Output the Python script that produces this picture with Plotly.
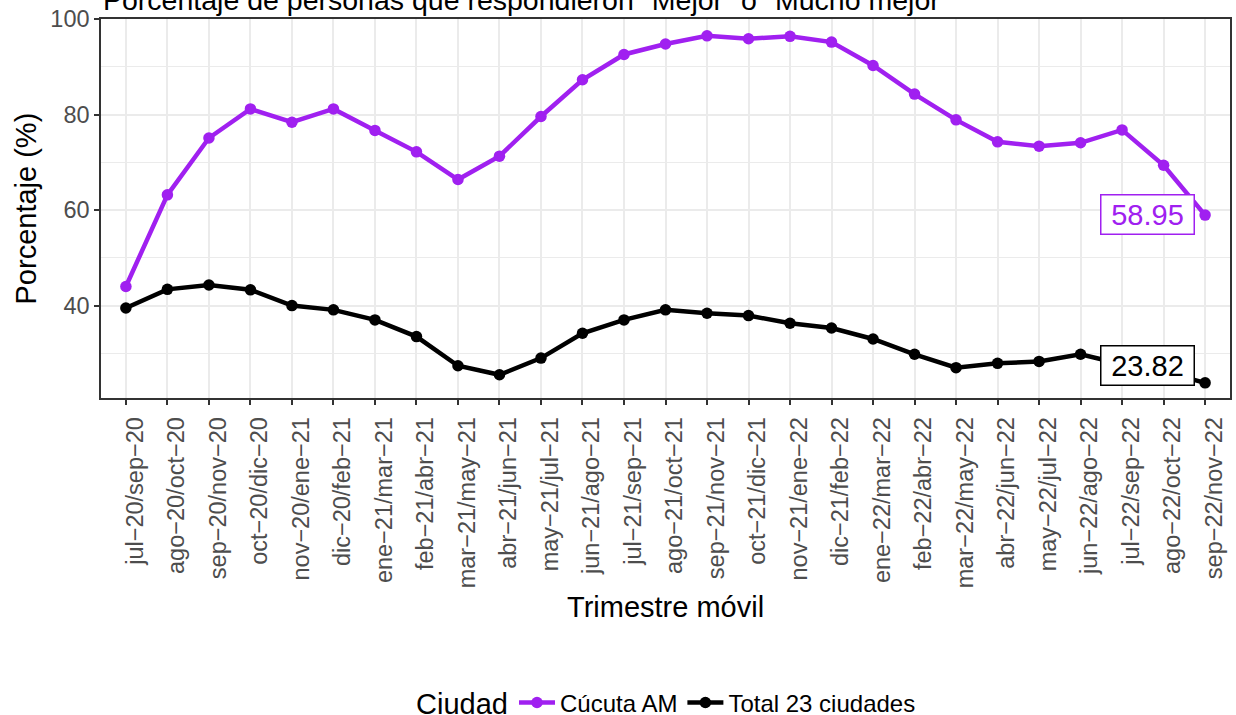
import plotly.graph_objects as go

categorias = [
    "jul−20/sep−20", "ago−20/oct−20", "sep−20/nov−20", "oct−20/dic−20",
    "nov−20/ene−21", "dic−20/feb−21", "ene−21/mar−21", "feb−21/abr−21",
    "mar−21/may−21", "abr−21/jun−21", "may−21/jul−21", "jun−21/ago−21",
    "jul−21/sep−21", "ago−21/oct−21", "sep−21/nov−21", "oct−21/dic−21",
    "nov−21/ene−22", "dic−21/feb−22", "ene−22/mar−22", "feb−22/abr−22",
    "mar−22/may−22", "abr−22/jun−22", "may−22/jul−22", "jun−22/ago−22",
    "jul−22/sep−22", "ago−22/oct−22", "sep−22/nov−22",
]

cucuta = [44.0, 63.2, 75.1, 81.2, 78.4, 81.2, 76.7, 72.2, 66.4, 71.3,
          79.6, 87.3, 92.6, 94.8, 96.5, 95.9, 96.4, 95.2, 90.3, 84.3,
          78.9, 74.3, 73.4, 74.1, 76.8, 69.4, 58.95]

total23 = [39.5, 43.4, 44.3, 43.3, 40.0, 39.1, 37.0, 33.5, 27.4, 25.5,
           29.0, 34.2, 37.0, 39.1, 38.4, 37.9, 36.3, 35.3, 33.0, 29.8,
           27.0, 27.9, 28.3, 29.8, 27.7, 26.2, 23.82]

y_ticks = [40, 60, 80, 100]

PURPLE = "#A020F0"
BLACK = "#000000"
FONT = "Liberation Sans, Arial, sans-serif"
BIG = 29
SMALL = 23.5

fig = go.Figure()
fig.add_trace(go.Scatter(x=categorias, y=cucuta, mode="lines+markers", name="Cúcuta AM",
                         line=dict(color=PURPLE, width=4.5), marker=dict(color=PURPLE, size=11.5)))
fig.add_trace(go.Scatter(x=categorias, y=total23, mode="lines+markers", name="Total 23 ciudades",
                         line=dict(color=BLACK, width=4.5), marker=dict(color=BLACK, size=11.5)))

# end labels
fig.add_annotation(x=categorias[-1], y=cucuta[-1], text=f"{cucuta[-1]:.2f}", showarrow=False,
                   xanchor="right", yanchor="middle", xshift=-10, yshift=1,
                   font=dict(family=FONT, size=BIG, color=PURPLE), bgcolor="white",
                   bordercolor=PURPLE, borderwidth=1.5, borderpad=3, width=86)
fig.add_annotation(x=categorias[-1], y=total23[-1], text=f"{total23[-1]:.2f}", showarrow=False,
                   xanchor="right", yanchor="middle", xshift=-10, yshift=17,
                   font=dict(family=FONT, size=BIG, color=BLACK), bgcolor="white",
                   bordercolor=BLACK, borderwidth=1.5, borderpad=3, width=86)

# title (cut off at top)
fig.add_annotation(xref="paper", yref="paper", x=0, y=1, xanchor="left", yanchor="bottom",
                   yshift=1, showarrow=False,
                   text='Porcentaje de personas que respondieron "Mejor" o "Mucho mejor"',
                   font=dict(family=FONT, size=28.5, color="black"))
# axis titles
fig.add_annotation(xref="paper", yref="paper", x=0.5, y=0, yshift=-209, xanchor="center",
                   yanchor="middle", showarrow=False, text="Trimestre móvil",
                   font=dict(family=FONT, size=BIG, color="black"))
fig.add_annotation(xref="paper", yref="paper", x=0, y=0.5, xshift=-76, xanchor="center",
                   yanchor="middle", showarrow=False, text="Porcentaje (%)", textangle=-90,
                   font=dict(family=FONT, size=BIG, color="black"))
# legend title
fig.add_annotation(xref="paper", yref="paper", x=(414 - 101) / 1129, y=0, yshift=-306,
                   xanchor="left", yanchor="middle", showarrow=False, text="Ciudad",
                   font=dict(family=FONT, size=BIG, color="black"))

fig.update_layout(
    width=1236, height=715,
    margin=dict(l=101, r=6, t=19, b=317),
    paper_bgcolor="white", plot_bgcolor="white",
    font=dict(family=FONT, color="black"),
    showlegend=True,
    legend=dict(orientation="h", xref="paper", yref="container", x=(514 - 101) / 1129,
                xanchor="left", y=0.017, yanchor="middle",
                font=dict(size=24, family=FONT, color="black"), itemwidth=36),
)
fig.update_xaxes(
    type="category", range=[-0.6, 26.6], automargin=False,
    tickangle=-90, tickfont=dict(size=SMALL, color="#4D4D4D", family=FONT),
    ticks="outside", ticklen=5, tickwidth=1.5, tickcolor="#333333",
    showgrid=True, gridcolor="#EBEBEB", gridwidth=2,
    showline=True, linecolor="#333333", linewidth=1.5, mirror=True,
    ticklabelshift=9, ticklabelstandoff=3, zeroline=False,
)
fig.update_yaxes(
    range=[20.64, 100.03], tickvals=y_ticks, automargin=False,
    tickfont=dict(size=SMALL, color="#4D4D4D", family=FONT),
    ticks="outside", ticklen=5, tickwidth=1.5, tickcolor="#333333",
    showgrid=True, gridcolor="#EBEBEB", gridwidth=2,
    minor=dict(tickvals=[30, 50, 70, 90], showgrid=True, gridcolor="#EBEBEB", gridwidth=1.3, ticks=""),
    showline=True, linecolor="#333333", linewidth=1.5, mirror=True, zeroline=False,
)

fig.write_html("out.html", config={"displayModeBar": False},
               post_script="document.body.style.margin='0';document.body.style.overflow='hidden';")
